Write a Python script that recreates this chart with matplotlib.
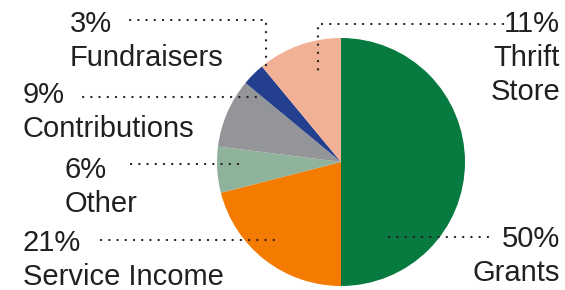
import matplotlib
matplotlib.use("Agg")
import matplotlib.pyplot as plt

labels = ["Grants", "Service Income", "Other", "Contributions", "Fundraisers", "Thrift\nStore"]
shares = [50, 21, 6, 9, 3, 11]
colors = ["#077a40", "#f47a00", "#8fb29a", "#939598", "#253f8f", "#f2b195"]

W, H = 565, 290
fig = plt.figure(figsize=(W / 100, H / 100), dpi=100)
ax = fig.add_axes([0, 0, 1, 1])

cx, cy, r = 341, H - 162, 124
ax.pie(shares, colors=colors, startangle=90, counterclock=False,
       center=(cx, cy), radius=r, frame=True,
       wedgeprops=dict(linewidth=0))
ax.set_xlim(0, W)
ax.set_ylim(0, H)
ax.set_aspect("equal")
ax.axis("off")

txt = dict(fontsize=21, color="#231f20", family="Liberation Sans")
dots = dict(color="#231f20", lw=1.6, linestyle=(0, (0.1, 3.6)),
            dash_capstyle="round")

def y(v):
    return H - v

# label text: (x, baseline of first line, ha)
place = {
    "Grants": (560, 247, "right"),
    "Service Income": (23, 251, "left"),
    "Other": (65, 178, "left"),
    "Contributions": (23, 103, "left"),
    "Fundraisers": (70, 32, "left"),
    "Thrift\nStore": (560, 32, "right"),
}
step = 34
for lab, val in zip(labels, shares):
    x0, b, ha = place[lab]
    lines = [f"{val}%"] + lab.split("\n")
    for k, s in enumerate(lines):
        ax.text(x0, y(b + k * step), s, ha=ha, va="baseline", **txt)

# leader lines
ax.plot([488, 388], [y(237), y(237)], **dots)
ax.plot([101, 275], [y(240), y(240)], **dots)
ax.plot([131, 245], [y(164), y(164)], **dots)
ax.plot([83, 258], [y(97), y(97)], **dots)
ax.plot([130, 266, 266], [y(20), y(20), y(68)], **dots)
ax.plot([503, 318, 318], [y(24), y(24), y(70)], **dots)

fig.savefig("out.png", dpi=100)
